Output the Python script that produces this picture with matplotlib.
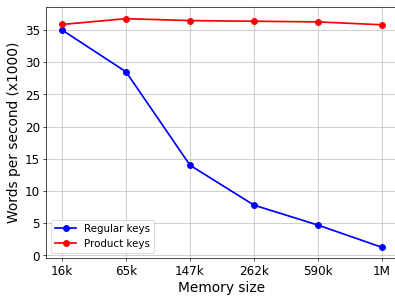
import matplotlib
matplotlib.use("Agg")
import matplotlib.pyplot as plt

memory_sizes = ["16k", "65k", "147k", "262k", "590k", "1M"]
regular_keys = [35.0, 28.5, 14.0, 7.8, 4.7, 1.25]
product_keys = [35.85, 36.75, 36.45, 36.35, 36.25, 35.8]


def plot_speed(file_path):
    dpi = 395 / 6.4
    fig = plt.figure(figsize=(6.4, 4.8), dpi=dpi)
    ax = fig.add_axes([46 / 395, 37.7 / 296, 352 / 395, 251.3 / 296])
    x = range(len(memory_sizes))
    ax.plot(x, regular_keys, marker='o', markersize=7, color='blue', linewidth=2, label='Regular keys')
    ax.plot(x, product_keys, marker='o', markersize=7, color='red', linewidth=2, label='Product keys')
    ax.set_xticks(list(x))
    ax.set_xticklabels(memory_sizes)
    ax.set_yticks([0, 5, 10, 15, 20, 25, 30, 35])
    ax.tick_params(axis='both', labelsize=14)
    ax.set_xlim(-0.25, 5.25)
    ax.set_ylim(-0.45, 38.6)
    ax.set_xlabel('Memory size', fontsize=16)
    ax.set_ylabel('Words per second (x1000)', fontsize=16)
    ax.grid(True, color='#b0b0b0', linewidth=1.2, alpha=0.6)
    ax.legend(loc='lower left', fontsize=12)
    plt.savefig(file_path, dpi=dpi)
    plt.close()


plot_speed('out.png')
